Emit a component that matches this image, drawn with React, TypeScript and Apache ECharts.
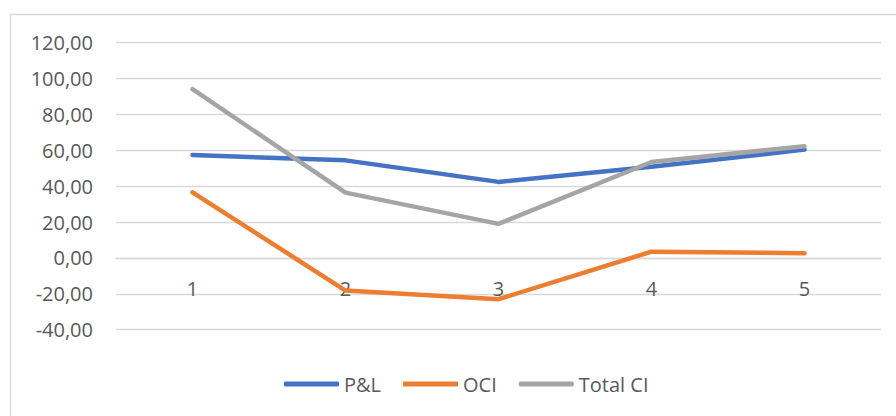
import React, { useEffect, useRef } from "react";
import * as echarts from "echarts";

const categories = ["1", "2", "3", "4", "5"];
const pnl = [57.4, 54.4, 42.4, 50.8, 60.4];
const oci = [36.6, -18.2, -23.0, 3.5, 2.6];
const totalCI = [94.1, 36.4, 19.0, 53.5, 62.3];
const seriesNames = ["P&L", "OCI", "Total CI"];
const colors = ["#4472C4", "#ED7D31", "#A5A5A5"];

const FONT = "'Open Sans', 'Noto Sans', sans-serif";
const TEXT = "#595959";
const Y_MIN = -40;
const Y_MAX = 120;
const GRID_TOP = 42.7;
const GRID_BOTTOM = 86.3;
const PLOT_H = 416 - GRID_TOP - GRID_BOTTOM;

export default function App() {
  const ref = useRef<HTMLDivElement>(null);
  useEffect(() => {
    if (!ref.current) return;
    const chart = echarts.init(ref.current, null, { renderer: "svg" });
    const data = [pnl, oci, totalCI];
    // distance of the zero line above the grid bottom
    const zeroOffset = ((0 - Y_MIN) / (Y_MAX - Y_MIN)) * PLOT_H;
    chart.setOption({
      animation: false,
      backgroundColor: "#ffffff",
      textStyle: { fontFamily: FONT },
      graphic: [
        {
          type: "rect",
          shape: { x: 10.5, y: 14.5, width: 900, height: 420 },
          style: { fill: "none", stroke: "#d9d9d9", lineWidth: 1.3 },
          silent: true,
          z: -1,
        },
      ],
      grid: { left: 116, right: 15, top: GRID_TOP, bottom: GRID_BOTTOM, containLabel: false },
      legend: {
        left: 279,
        top: 369,
        icon: "roundRect",
        itemWidth: 55,
        itemHeight: 5,
        itemGap: 22,
        textStyle: { color: TEXT, fontSize: 20, fontFamily: FONT },
        data: seriesNames,
      },
      xAxis: {
        type: "category",
        data: categories,
        boundaryGap: true,
        position: "bottom",
        offset: -zeroOffset,
        axisLine: { onZero: false, lineStyle: { color: "#d9d9d9", width: 1.3 } },
        axisTick: { show: false },
        axisLabel: { color: TEXT, fontSize: 20, fontFamily: FONT, margin: 21 },
      },
      yAxis: {
        type: "value",
        min: Y_MIN,
        max: Y_MAX,
        interval: 20,
        axisLine: { show: false },
        axisTick: { show: false },
        splitLine: { lineStyle: { color: "#d9d9d9", width: 1.3 } },
        axisLabel: {
          color: TEXT,
          fontSize: 20,
          fontFamily: FONT,
          margin: 23,
          formatter: (v: number) => v.toFixed(2).replace(".", ","),
        },
      },
      series: seriesNames.map((name, i) => ({
        name,
        type: "line",
        data: data[i],
        symbol: "none",
        color: colors[i],
        lineStyle: { color: colors[i], width: 4.5, cap: "round", join: "round" },
        itemStyle: { color: colors[i] },
        z: i === 2 ? 3 : 2,
      })),
    });
    return () => chart.dispose();
  }, []);
  return (
    <div
      ref={ref}
      style={{ position: "fixed", left: 0, top: 0, width: 896, height: 416 }}
    />
  );
}
